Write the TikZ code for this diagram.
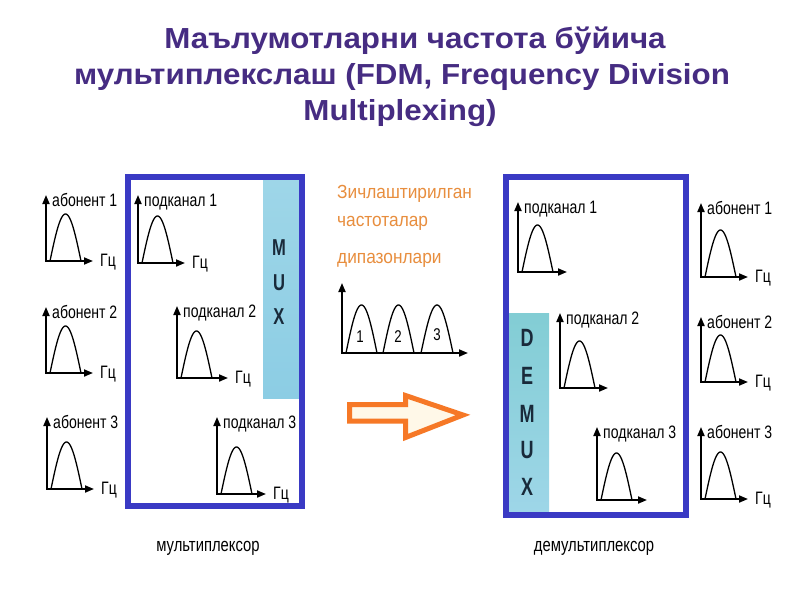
\documentclass[tikz,border=0pt]{standalone}
\usepackage{fontspec}
\setmainfont{Liberation Sans}
\newfontfamily\narrowfont[FakeStretch=0.78]{Liberation Sans}
\newfontfamily\orangefont[FakeStretch=0.91]{Liberation Sans}
\newfontfamily\letterfont[FakeStretch=0.72]{Liberation Sans}
\newfontfamily\titlefont[FakeStretch=1.08]{Liberation Sans}
\usetikzlibrary{arrows.meta}

\definecolor{titlecol}{RGB}{70,44,130}
\definecolor{boxblue}{RGB}{58,58,196}
\definecolor{stripblue}{RGB}{140,205,228}
\definecolor{striptop}{RGB}{158,214,232}
\definecolor{demuxtop}{RGB}{130,205,212}
\definecolor{letcol}{RGB}{25,42,58}
\definecolor{orangetxt}{RGB}{232,142,62}
\definecolor{arroworange}{RGB}{246,120,38}
\definecolor{arrowfill}{RGB}{255,248,232}

\tikzset{
  axis/.style={line width=1.8pt, {Triangle[length=9pt,width=7pt]}-{Triangle[length=9pt,width=7pt]}},
  bell/.style={line width=1.3pt},
  glabel/.style={font=\narrowfont\fontsize{18}{18}\selectfont, inner sep=0pt, anchor=base west},
  hzlabel/.style={font=\narrowfont\fontsize{18}{18}\selectfont, inner sep=0pt, anchor=base west},
  titletext/.style={font=\titlefont\bfseries\fontsize{29}{29}\selectfont, text=titlecol, inner sep=0pt, anchor=base},
  orangetext/.style={font=\orangefont\fontsize{19}{19}\selectfont, text=orangetxt, inner sep=0pt, anchor=base west},
  muxletter/.style={font=\letterfont\bfseries\fontsize{23}{23}\selectfont, text=letcol, inner sep=0pt},
  demuxletter/.style={font=\letterfont\bfseries\fontsize{25}{25}\selectfont, text=letcol, inner sep=0pt},
  caption/.style={font=\narrowfont\fontsize{19}{19}\selectfont, inner sep=0pt, anchor=base},
  boxframe/.style={draw=boxblue, line width=6pt, fill=white},
  numlabel/.style={font=\narrowfont\fontsize{17}{17}\selectfont, inner sep=0pt},
}

% name, x, y, height, length, label, Hz-label
\newcommand\fdmgraph[7]{%
  \coordinate (#1) at (#2,#3);
  \coordinate (#1-top) at (#2,#3-#4);
  \coordinate (#1-end) at (#2+#5,#3);
  \draw[axis] (#1-top) -- (#1) -- (#1-end);
  \draw[bell] plot[domain=0:1,samples=40] ({#2+4+31*\x},{#3-47*sin(180*\x)});
  \node[glabel] (#1-lab) at (#2+6,#3-#4+11) {#6};
  \node[hzlabel] (#1-hz) at (#2+#5+7,#3+5) {#7};
}

\begin{document}
\begin{tikzpicture}[x=1pt,y=-1pt]
\useasboundingbox (0,0) rectangle (800,600);
\fill[white] (0,0) rectangle (800,600);

% title
\node[titletext] (t1) at (415,48) {Маълумотларни частота бўйича};
\node[titletext] (t2) at (402,84) {мультиплекслаш (FDM, Frequency Division};
\node[titletext] (t3) at (400,120) {Multiplexing)};

% MUX box
\draw[boxframe] (128,177) rectangle (302,506);
\shade[top color=striptop, bottom color=stripblue] (263,180) rectangle (299,398);
\draw[draw=boxblue, line width=6pt] (128,177) rectangle (302,506);
\node[muxletter] (m1) at (279,248) {M};
\node[muxletter] (m2) at (279,283) {U};
\node[muxletter] (m3) at (279,317) {X};

% DEMUX box
\draw[boxframe] (506,177) rectangle (686,515);
\shade[top color=demuxtop, bottom color=striptop] (509,313) rectangle (549,512);
\draw[draw=boxblue, line width=6pt] (506,177) rectangle (686,515);
\node[demuxletter] (d1) at (527,338) {D};
\node[demuxletter] (d2) at (527,376) {E};
\node[demuxletter] (d3) at (527,414) {M};
\node[demuxletter] (d4) at (527,450) {U};
\node[demuxletter] (d5) at (527,487) {X};

% left abonents
\fdmgraph{la1}{46}{261}{66}{47}{абонент 1}{Гц}
\fdmgraph{la2}{46}{373}{66}{47}{абонент 2}{Гц}
\fdmgraph{la3}{47}{489}{72}{47}{абонент 3}{Гц}

% mux subchannels
\fdmgraph{ms1}{138}{263}{68}{47}{подканал 1}{Гц}
\fdmgraph{ms2}{177}{378}{72}{51}{подканал 2}{Гц}
\fdmgraph{ms3}{217}{494}{77}{49}{подканал 3}{Гц}

% demux subchannels
\fdmgraph{ds1}{518}{272}{70}{49}{подканал 1}{}
\fdmgraph{ds2}{560}{388}{75}{48}{подканал 2}{}
\fdmgraph{ds3}{597}{500}{73}{50}{подканал 3}{}

% right abonents
\fdmgraph{ra1}{701}{277}{74}{47}{абонент 1}{Гц}
\fdmgraph{ra2}{701}{382}{65}{47}{абонент 2}{Гц}
\fdmgraph{ra3}{701}{499}{72}{47}{абонент 3}{Гц}

% centre text
\node[orangetext] (o1) at (337,198) {Зичлаштирилган};
\node[orangetext] (o2) at (337,226) {частоталар};
\node[orangetext] (o3) at (337,263) {дипазонлари};

% centre combined spectrum
\coordinate (c0) at (342,353);
\coordinate (ctop) at (342,283);
\coordinate (cend) at (468,353);
\draw[axis] (ctop) -- (c0) -- (cend);
\draw[bell] plot[domain=0:1,samples=40] ({346+31*\x},{353-48*sin(180*\x)});
\draw[bell] plot[domain=0:1,samples=40] ({383+31*\x},{353-48*sin(180*\x)});
\draw[bell] plot[domain=0:1,samples=40] ({421+32*\x},{353-48*sin(180*\x)});
\node[numlabel] (n1) at (360,337) {1};
\node[numlabel] (n2) at (398,337) {2};
\node[numlabel] (n3) at (437,335) {3};

% orange arrow
\draw[draw=arroworange, fill=arrowfill, line width=5pt, line join=miter]
  (349.5,404.5) -- (405.5,404.5) -- (405.5,395.5) -- (463,415) -- (405.5,437.5)
  -- (405.5,421) -- (349.5,421) -- cycle;

% captions
\node[caption] (cap1) at (208,551) {мультиплексор};
\node[caption] (cap2) at (594,551) {демультиплексор};
\end{tikzpicture}
\end{document}
